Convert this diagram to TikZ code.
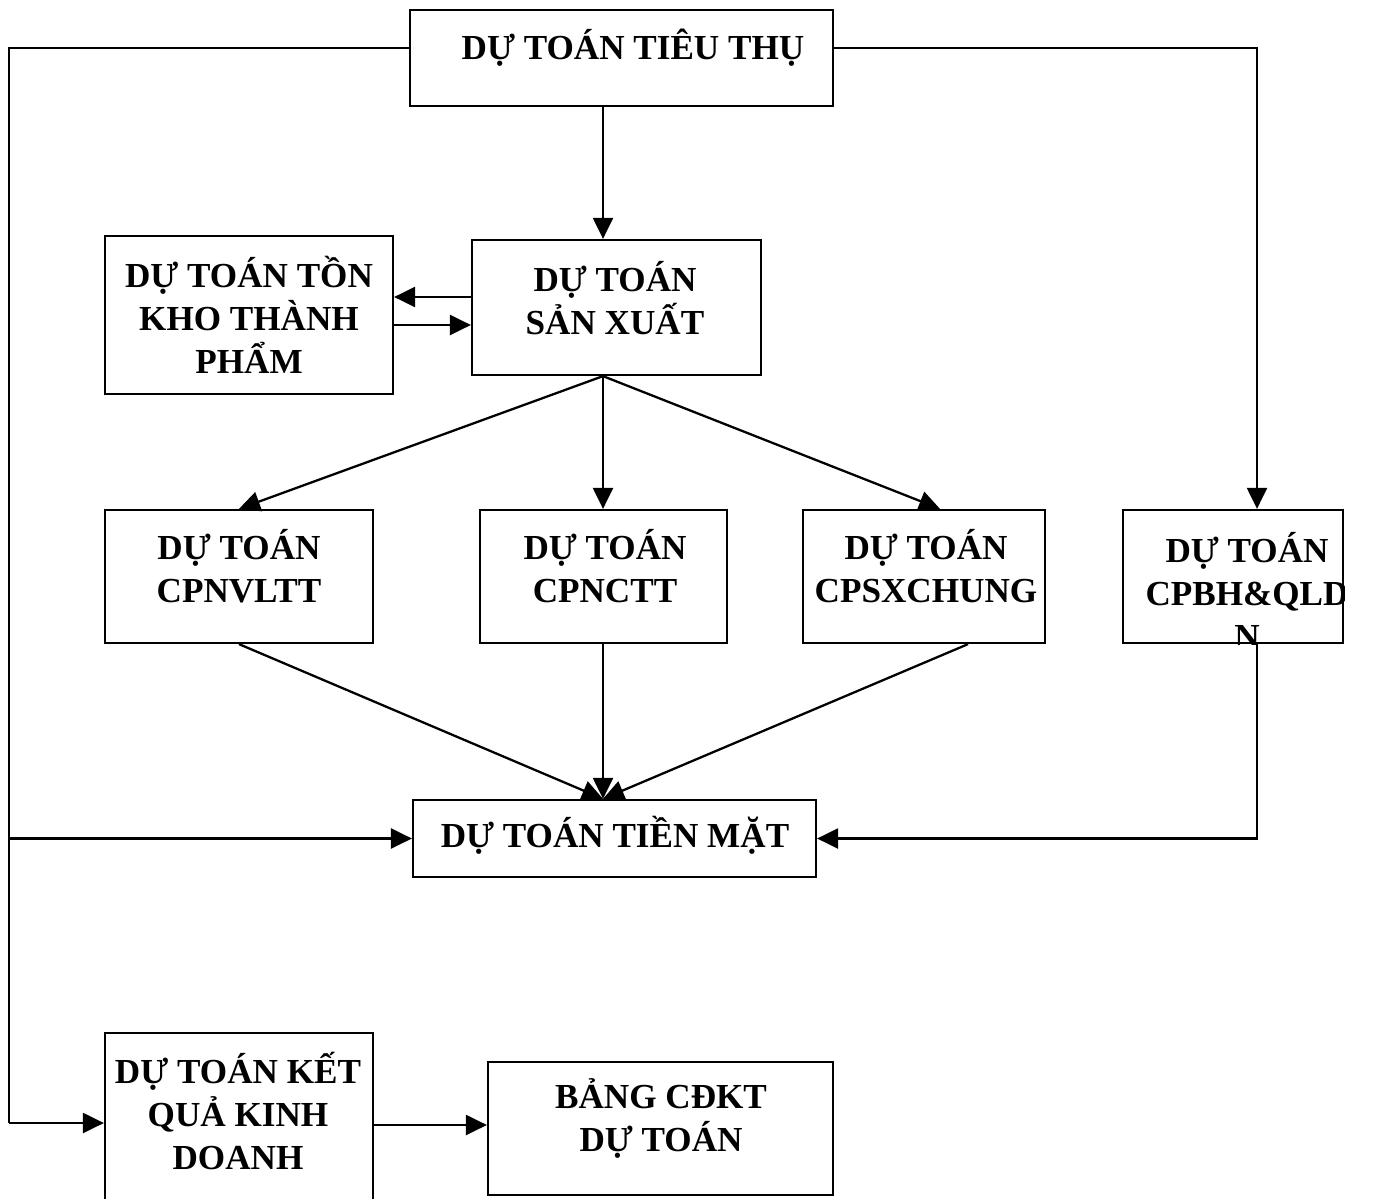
\documentclass[tikz,border=0pt]{standalone}
\usepackage{fontspec}
\setmainfont{Liberation Serif}
\usetikzlibrary{arrows.meta}

\begin{document}
\begin{tikzpicture}[x=0.02cm,y=-0.02cm,>={Triangle[length=0.42cm,width=0.4cm]},
        line width=1.3pt,
        box/.style={rectangle,draw,inner sep=0pt},
        txt/.style={align=center,font=\fontsize{20}{24.5}\selectfont\bfseries}]
        \useasboundingbox (0,0) rectangle (1382,1199);
        % boxes
        \node[box,minimum width=8.46cm,minimum height=1.92cm] (tt) at (621.5,58) {};
        \node[box,minimum width=5.76cm,minimum height=3.16cm] (tk) at (249,315) {};
        \node[box,minimum width=5.78cm,minimum height=2.70cm] (sx) at (616.5,307.5) {};
        \node[box,minimum width=5.36cm,minimum height=2.66cm] (vl) at (239,576.5) {};
        \node[box,minimum width=4.94cm,minimum height=2.66cm] (nc) at (603.5,576.5) {};
        \node[box,minimum width=4.84cm,minimum height=2.66cm] (sc) at (924,576.5) {};
        \node[box,minimum width=4.40cm,minimum height=2.66cm] (bh) at (1233,576.5) {};
        \node[box,minimum width=8.06cm,minimum height=1.54cm] (tm) at (614.5,838.5) {};
        \node[box,minimum width=5.36cm,minimum height=3.94cm] (kq) at (239,1131.5) {};
        \node[box,minimum width=6.90cm,minimum height=2.66cm] (cd) at (660.5,1128.5) {};
        % texts
        \node[txt] (tt-t) at (633,48) {DỰ TOÁN TIÊU THỤ};
        \node[txt] (tk-t) at (249,315) {DỰ TOÁN TỒN\\KHO THÀNH\\PHẨM};
        \node[txt] (sx-t) at (615,298) {DỰ TOÁN\\SẢN XUẤT};
        \node[txt] (vl-t) at (239,566) {DỰ TOÁN\\CPNVLTT};
        \node[txt] (nc-t) at (605,566) {DỰ TOÁN\\CPNCTT};
        \node[txt] (sc-t) at (926,566) {DỰ TOÁN\\CPSXCHUNG};
        \begin{scope}
        \clip (bh.north west) rectangle (bh.south east);
        \node[txt] (bh-t) at (1247,590) {DỰ TOÁN\\CPBH\&QLD\\N};
        \end{scope}
        \node[txt] (tm-t) at (615,835) {DỰ TOÁN TIỀN MẶT};
        \node[txt] (kq-t) at (238,1111) {DỰ TOÁN KẾT\\QUẢ KINH\\DOANH};
        \node[txt] (cd-t) at (661,1118) {BẢNG CĐKT\\DỰ TOÁN};
        % junctions
        \coordinate (mid) at (603,0);
        \coordinate (lft) at (9,48);
        \coordinate (rgt) at (1257,48);
        \coordinate (up) at (0,297);
        \coordinate (dn) at (0,325);
        \coordinate (bot) at (0,1123);
        \coordinate (sc-in) at (940,0);
        \coordinate (sc-out) at (968,0);
        % connectors
        \draw (tt.west |- lft) -- (lft) -- (lft |- bot);
        \draw[->] (lft |- bot) -- (kq.west |- bot);
        \draw[->] (lft |- tm.west) -- (tm.west);
        \draw[->] (tt.east |- rgt) -- (rgt) -- (rgt |- bh.north);
        \draw[->] (tt.south -| mid) -- (sx.north -| mid);
        \draw[->] (sx.west |- up) -- (tk.east |- up);
        \draw[->] (tk.east |- dn) -- (sx.west |- dn);
        \draw[->] (sx.south -| mid) -- (vl.north);
        \draw[->] (sx.south -| mid) -- (nc.north -| mid);
        \draw[->] (sx.south -| mid) -- (sc.north -| sc-in);
        \draw[->] (vl.south) -- (tm.north -| mid);
        \draw[->] (nc.south -| mid) -- (tm.north -| mid);
        \draw[->] (sc.south -| sc-out) -- (tm.north -| mid);
        \draw[->] (bh.south -| rgt) -- (rgt |- tm.east) -- (tm.east);
        \draw[->] (kq.east |- 0,1125) -- (cd.west |- 0,1125);
\end{tikzpicture}
\end{document}
